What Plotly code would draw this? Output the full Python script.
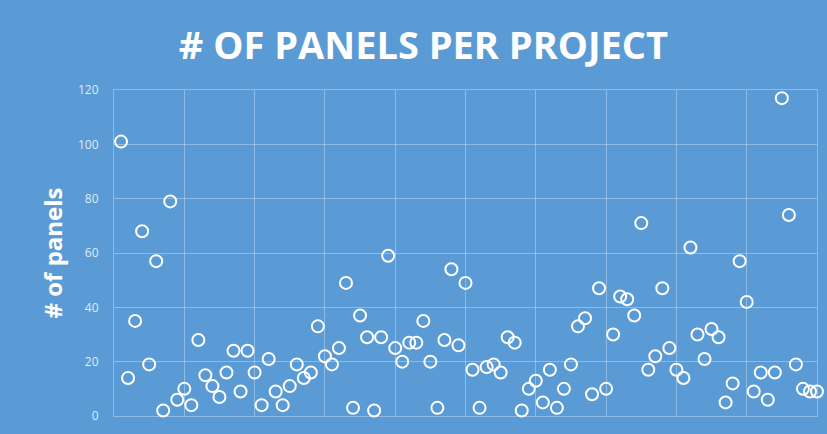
import plotly.graph_objects as go

# Project index and panel count for each project
projects = list(range(1, 101))
panels = [
    101, 14, 35, 68, 19, 57, 2, 79, 6, 10,
    4, 28, 15, 11, 7, 16, 24, 9, 24, 16,
    4, 21, 9, 4, 11, 19, 14, 16, 33, 22,
    19, 25, 49, 3, 37, 29, 2, 29, 59, 25,
    20, 27, 27, 35, 20, 3, 28, 54, 26, 49,
    17, 3, 18, 19, 16, 29, 27, 2, 10, 13,
    5, 17, 3, 10, 19, 33, 36, 8, 47, 10,
    30, 44, 43, 37, 71, 17, 22, 47, 25, 17,
    14, 62, 30, 21, 32, 29, 5, 12, 57, 42,
    9, 16, 6, 16, 117, 74, 19, 10, 9, 9,
]
y_ticks = [0, 20, 40, 60, 80, 100, 120]

BG = "#5B9BD5"
GRID = "rgba(255,255,255,0.32)"

fig = go.Figure(
    go.Scatter(
        x=projects,
        y=panels,
        mode="markers",
        cliponaxis=False,
        marker=dict(
            symbol="circle-open",
            size=12,
            color="white",
            line=dict(width=2, color="white"),
        ),
        hoverinfo="x+y",
    )
)

fig.update_layout(
    width=827,
    height=434,
    paper_bgcolor=BG,
    plot_bgcolor=BG,
    margin=dict(l=114, r=10, t=90, b=18),
    showlegend=False,
    title=dict(
        text="<b># OF PANELS PER PROJECT</b>",
        x=0.512,
        xanchor="center",
        y=0.895,
        yanchor="middle",
        font=dict(family="Open Sans", size=38, color="white"),
    ),
    font=dict(family="Open Sans", color="white"),
)

fig.update_xaxes(
    range=[0, 100],
    dtick=10,
    showticklabels=False,
    showgrid=True,
    gridcolor=GRID,
    gridwidth=1,
    zeroline=False,
    showline=True,
    mirror=True,
    linecolor=GRID,
    linewidth=1,
)

fig.update_yaxes(
    range=[0, 120],
    tickvals=y_ticks,
    showgrid=True,
    gridcolor=GRID,
    gridwidth=1,
    zeroline=False,
    showline=True,
    mirror=True,
    linecolor=GRID,
    linewidth=1,
    ticks="outside",
    ticklen=12,
    tickcolor="rgba(0,0,0,0)",
    tickfont=dict(family="Open Sans", size=12, color="rgba(255,255,255,0.82)"),
    title=dict(
        text="<b># of panels</b>",
        font=dict(family="Open Sans", size=24, color="white"),
        standoff=8,
    ),
)

fig.write_html("out.html")
